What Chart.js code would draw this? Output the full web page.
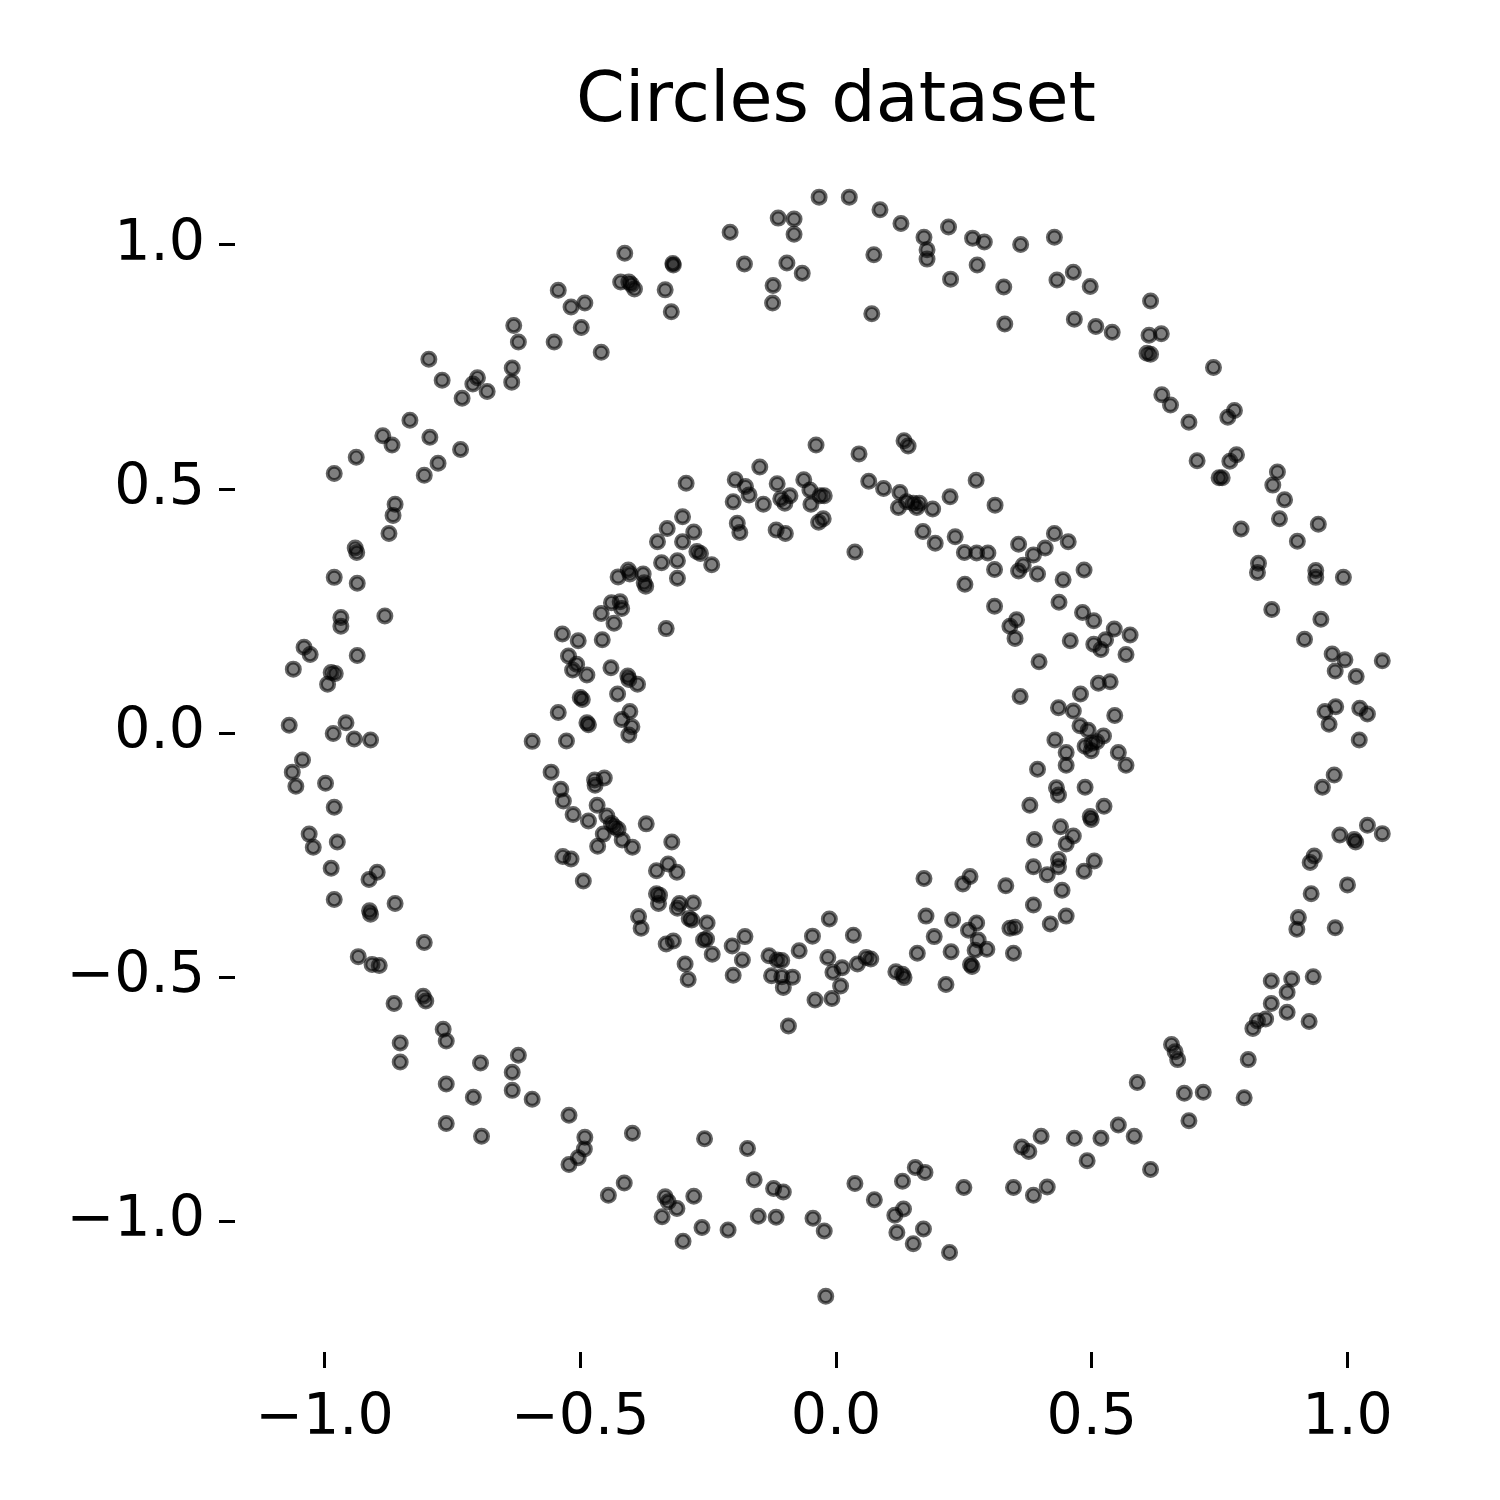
<!DOCTYPE html>
<html>
<head>
<meta charset="utf-8">
<title>Circles dataset</title>
<script src="https://cdn.jsdelivr.net/npm/chart.js@4.4.1/dist/chart.umd.min.js"></script>
<style>
  body { margin: 0; background: #fff; }
  canvas { display: block; }
</style>
</head>
<body>
<canvas id="myChart" width="1500" height="1500"></canvas>
<script>
'use strict';

// Points, [x, y]
let outerCircle = [
  [-0.413,0.983],[-0.421,0.924],[-0.405,0.924],[-0.400,0.919],[-0.394,0.910],[-0.543,0.907],[-0.518,0.873],
  [-0.491,0.881],[-0.498,0.831],[-0.630,0.835],[-0.621,0.801],[-0.551,0.801],[-0.459,0.780],[-0.796,0.766],
  [-0.633,0.748],[-0.634,0.719],[-0.770,0.723],[-0.701,0.728],[-0.710,0.715],[-0.682,0.700],[-0.731,0.686],
  [-0.833,0.641],[-0.886,0.609],[-0.868,0.590],[-0.794,0.606],[-0.734,0.581],[-0.938,0.565],[-0.981,0.532],
  [-0.778,0.553],[-0.805,0.528],[-0.862,0.469],[-0.866,0.446],[-0.874,0.409],[-0.940,0.379],[-0.937,0.370],
  [-0.033,1.098],[0.026,1.098],[0.086,1.072],[0.127,1.044],[-0.113,1.055],[-0.082,1.053],[-0.082,1.022],
  [-0.207,1.026],[0.172,1.016],[0.220,1.037],[0.267,1.014],[0.290,1.006],[0.361,1.001],[-0.319,0.962],
  [-0.318,0.959],[-0.179,0.961],[-0.096,0.963],[-0.066,0.942],[0.074,0.980],[0.178,0.990],[0.178,0.971],
  [0.276,0.959],[0.224,0.930],[0.328,0.914],[0.330,0.838],[-0.334,0.908],[-0.322,0.863],[-0.123,0.917],
  [-0.124,0.881],[0.070,0.859],
  [0.427,1.016],[0.432,0.928],[0.464,0.944],[0.497,0.915],[0.615,0.885],[0.466,0.848],[0.508,0.833],
  [0.540,0.821],[0.612,0.815],[0.636,0.818],[0.608,0.778],[0.615,0.776],[0.738,0.749],[0.637,0.693],
  [0.654,0.672],[0.690,0.637],[0.779,0.661],[0.766,0.647],[0.706,0.558],[0.783,0.570],[0.770,0.557],
  [0.749,0.523],[0.755,0.523],[0.863,0.535],[0.854,0.508],[0.877,0.478],[0.867,0.439],[0.792,0.418],
  [0.943,0.428],[0.902,0.393],
  [-0.981,0.319],[-0.936,0.307],[-0.882,0.240],[-0.968,0.237],[-0.968,0.219],[-1.040,0.176],[-1.028,0.161],
  [-0.936,0.159],[-1.061,0.131],[-0.987,0.124],[-0.979,0.122],[-0.994,0.100],[-1.069,0.016],[-0.958,0.021],
  [-0.983,-0.001],[-0.942,-0.012],[-0.910,-0.014],[-1.043,-0.055],[-1.063,-0.080],[-1.056,-0.109],
  [-0.998,-0.103],[-0.981,-0.152],[-1.030,-0.207],[-1.022,-0.234],[-0.975,-0.223],[-0.987,-0.277],
  [-0.897,-0.285],[-0.913,-0.300],[-0.981,-0.341],[-0.912,-0.364],[-0.910,-0.371],[-0.862,-0.349],
  [0.826,0.348],[0.824,0.329],[0.938,0.333],[0.938,0.319],[0.992,0.319],[0.852,0.253],[0.948,0.233],
  [0.916,0.192],[0.970,0.162],[0.995,0.150],[0.976,0.127],[1.017,0.116],[1.068,0.148],[0.977,0.054],
  [0.956,0.044],[0.964,0.018],[1.024,0.051],[1.039,0.039],[1.023,-0.014],[0.974,-0.086],[0.951,-0.111],
  [1.039,-0.189],[0.985,-0.209],[1.013,-0.218],[1.016,-0.223],[1.068,-0.206],[0.935,-0.252],[0.927,-0.265],
  [1.000,-0.311],[0.929,-0.329],[0.904,-0.378],[0.901,-0.402],[0.976,-0.399],
  [-0.805,-0.429],[-0.934,-0.458],[-0.907,-0.474],[-0.893,-0.476],[-0.864,-0.554],[-0.807,-0.539],
  [-0.802,-0.549],[-0.768,-0.607],[-0.762,-0.631],[-0.852,-0.635],[-0.852,-0.674],[-0.695,-0.676],
  [-0.621,-0.660],[-0.633,-0.695],[-0.762,-0.719],[-0.709,-0.746],[-0.633,-0.732],[-0.594,-0.750],
  [-0.522,-0.783],[-0.762,-0.800],[-0.693,-0.826],[-0.491,-0.828],[-0.492,-0.852],[-0.504,-0.870],
  [-0.522,-0.884],[-0.398,-0.820],[-0.414,-0.922],[-0.445,-0.947],
  [-0.257,-0.831],[-0.173,-0.851],[-0.160,-0.915],[-0.122,-0.933],[-0.103,-0.940],[0.037,-0.923],
  [0.075,-0.956],[0.130,-0.918],[0.155,-0.890],[0.174,-0.900],[0.250,-0.931],[0.347,-0.931],[0.363,-0.848],
  [-0.334,-0.950],[-0.328,-0.960],[-0.311,-0.974],[-0.340,-0.991],[-0.278,-0.949],[-0.262,-1.013],
  [-0.299,-1.041],[-0.211,-1.018],[-0.152,-0.990],[-0.117,-0.992],[-0.045,-0.994],[-0.023,-1.020],
  [0.132,-0.975],[0.115,-0.988],[0.119,-1.023],[0.151,-1.046],[0.171,-1.016],[0.222,-1.064],[-0.020,-1.154],
  [0.851,-0.508],[0.891,-0.504],[0.933,-0.499],[0.882,-0.531],[0.851,-0.554],[0.882,-0.572],[0.925,-0.591],
  [0.840,-0.586],[0.824,-0.590],[0.815,-0.605],[0.656,-0.638],[0.663,-0.653],[0.668,-0.669],[0.806,-0.669],
  [0.589,-0.716],[0.681,-0.738],[0.718,-0.736],[0.798,-0.747],[0.690,-0.794],[0.552,-0.803],[0.401,-0.826],
  [0.466,-0.830],[0.518,-0.830],[0.583,-0.826],[0.377,-0.857],[0.491,-0.876],[0.615,-0.894],[0.413,-0.930],
  [0.386,-0.947]
];

let innerCircle = [
  [-0.039,0.590],[0.045,0.572],[0.133,0.599],[0.141,0.588],[0.274,0.518],[-0.149,0.545],[-0.293,0.512],
  [-0.197,0.519],[-0.177,0.505],[-0.170,0.488],[-0.201,0.474],[-0.142,0.469],[-0.115,0.511],[-0.090,0.486],
  [-0.108,0.480],[-0.100,0.471],[-0.063,0.519],[-0.051,0.498],[-0.031,0.486],[-0.023,0.486],[-0.049,0.469],
  [-0.025,0.439],[-0.034,0.432],[0.064,0.516],[0.093,0.501],[0.125,0.493],[0.138,0.474],[0.151,0.471],
  [0.122,0.462],[0.158,0.462],[0.163,0.471],[0.189,0.459],[0.223,0.484],[0.311,0.467],[-0.300,0.443],
  [-0.330,0.419],[-0.278,0.412],[-0.300,0.392],[-0.349,0.392],[-0.193,0.430],[-0.188,0.411],[-0.117,0.416],
  [-0.099,0.409],[0.170,0.413],[0.194,0.389],[0.233,0.402],[0.357,0.387],[0.037,0.371],[0.251,0.370],
  [0.275,0.369],[0.297,0.369],[-0.272,0.372],[-0.265,0.368],
  [0.427,0.409],[0.454,0.392],[0.409,0.379],[0.386,0.365],
  [-0.406,0.334],[-0.426,0.320],[-0.403,0.326],[-0.377,0.326],[-0.375,0.308],[-0.372,0.301],[-0.439,0.267],
  [-0.422,0.269],[-0.419,0.255],[-0.459,0.245],[-0.434,0.225],[-0.535,0.203],[-0.504,0.189],[-0.457,0.191],
  [-0.523,0.158],[-0.507,0.141],[-0.515,0.129],[-0.487,0.119],[-0.440,0.134],[-0.407,0.117],[-0.405,0.110],
  [-0.388,0.100],[-0.500,0.073],[-0.496,0.069],[-0.427,0.080],[-0.543,0.042],[-0.487,0.021],[-0.484,0.017],
  [-0.403,0.044],[-0.419,0.028],[-0.399,0.013],[-0.405,-0.004],[-0.594,-0.017],[-0.527,-0.016],[-0.557,-0.080],
  [-0.472,-0.096],[-0.471,-0.107],[-0.453,-0.092],[-0.538,-0.115],[-0.533,-0.139],[-0.514,-0.167],
  [-0.484,-0.180],[-0.467,-0.148],[-0.448,-0.170],[-0.439,-0.185],[-0.433,-0.192],[-0.426,-0.197],
  [-0.455,-0.207],[-0.418,-0.219],[-0.466,-0.232],[-0.398,-0.234],[-0.534,-0.253],[-0.518,-0.258],
  [-0.494,-0.303],[-0.371,-0.186],[-0.386,-0.376],[-0.381,-0.400],
  [-0.341,0.349],[-0.310,0.353],[-0.243,0.345],[-0.310,0.317],[-0.332,0.214],[0.252,0.305],[0.310,0.335],
  [0.357,0.332],[0.310,0.260],[0.340,0.219],[0.353,0.232],[0.350,0.194],[0.360,0.075],[0.366,0.344],
  [-0.321,-0.223],[-0.328,-0.268],[-0.351,-0.282],[-0.311,-0.285],[-0.351,-0.329],[-0.345,-0.332],
  [-0.347,-0.349],[-0.306,-0.349],[-0.310,-0.359],[-0.279,-0.348],[-0.287,-0.380],[-0.282,-0.383],
  [-0.252,-0.389],[-0.013,-0.381],[0.172,-0.298],[0.248,-0.309],[0.262,-0.294],[0.332,-0.313],[0.176,-0.375],
  [0.228,-0.383],[0.275,-0.389],[0.259,-0.404],[0.340,-0.400],[0.350,-0.398],
  [0.394,0.326],[0.444,0.314],[0.485,0.334],[0.436,0.268],[0.482,0.247],[0.504,0.230],[0.544,0.213],
  [0.575,0.201],[0.527,0.191],[0.504,0.182],[0.518,0.171],[0.458,0.189],[0.567,0.161],[0.397,0.146],
  [0.513,0.102],[0.536,0.105],[0.478,0.080],[0.435,0.052],[0.464,0.045],[0.545,0.036],[0.477,0.015],
  [0.493,0.006],[0.523,-0.006],[0.428,-0.014],[0.487,-0.027],[0.500,-0.021],[0.510,-0.018],[0.499,-0.036],
  [0.450,-0.040],[0.552,-0.040],[0.450,-0.066],[0.567,-0.066],[0.394,-0.074],[0.431,-0.112],[0.435,-0.127],
  [0.487,-0.111],[0.379,-0.148],[0.524,-0.150],[0.497,-0.171],[0.499,-0.177],[0.439,-0.192],[0.464,-0.211],
  [0.450,-0.227],[0.388,-0.218],[0.435,-0.259],[0.435,-0.274],[0.386,-0.274],[0.413,-0.290],[0.505,-0.262],
  [0.485,-0.283],[0.442,-0.322],[0.386,-0.352],[0.450,-0.375],[0.419,-0.391],
  [-0.332,-0.432],[-0.318,-0.426],[-0.259,-0.424],[-0.253,-0.422],[-0.203,-0.436],[-0.178,-0.417],
  [-0.242,-0.453],[-0.183,-0.465],[-0.295,-0.473],[-0.289,-0.505],[-0.201,-0.496],[-0.131,-0.456],
  [-0.115,-0.465],[-0.106,-0.466],[-0.126,-0.497],[-0.106,-0.499],[-0.085,-0.500],[-0.103,-0.521],
  [-0.072,-0.446],[-0.046,-0.416],[-0.016,-0.460],[-0.006,-0.490],[0.012,-0.481],[0.009,-0.518],
  [-0.008,-0.544],[-0.041,-0.547],[0.034,-0.414],[0.042,-0.473],[0.059,-0.460],[0.068,-0.463],
  [-0.093,-0.600],[0.117,-0.489],[0.130,-0.494],[0.133,-0.501],[0.159,-0.451],[0.192,-0.417],
  [0.215,-0.515],[0.225,-0.448],[0.278,-0.424],[0.272,-0.445],[0.295,-0.443],[0.263,-0.474],
  [0.266,-0.478],[0.347,-0.451]
];

// Axes
let tickValues = [-1, -0.5, 0, 0.5, 1];
let tickLabels = ['\u22121.0', '\u22120.5', '0.0', '0.5', '1.0'];
let xRange = [-1.175, 1.175];
let yRange = [-1.268, 1.213];
let chartTitle = 'Circles dataset';

let fontFamily = '"DejaVu Sans", sans-serif';

function toPoints(list) {
  return list.map(p => ({ x: p[0], y: p[1] }));
}

function fixedTicks(scale) {
  scale.ticks = tickValues.map(v => ({ value: v }));
}

function pointDataset(list) {
  return {
    data: toPoints(list),
    pointRadius: 6.6,
    pointBorderWidth: 3.8,
    pointBackgroundColor: 'rgba(0, 0, 0, 0.5)',
    pointBorderColor: 'rgba(0, 0, 0, 0.6)',
    pointHoverRadius: 6.6,
    showLine: false
  };
}

function axisOptions(range, fitFn, padding) {
  return {
    type: 'linear',
    min: range[0],
    max: range[1],
    afterBuildTicks: fixedTicks,
    afterFit: fitFn,
    border: { display: false },
    grid: {
      display: true,
      drawOnChartArea: false,
      drawTicks: true,
      tickLength: 16,
      tickWidth: 3,
      tickColor: '#000'
    },
    ticks: {
      autoSkip: false,
      maxRotation: 0,
      padding: padding,
      color: '#000',
      font: { family: fontFamily, size: 57 },
      callback: (value, index) => tickLabels[index]
    }
  };
}

let ctx = document.getElementById('myChart').getContext('2d');
let myChart = new Chart(ctx, { // eslint-disable-line
  type: 'scatter',
  data: {
    datasets: [pointDataset(outerCircle), pointDataset(innerCircle)]
  },
  options: {
    responsive: false,
    devicePixelRatio: 1,
    animation: false,
    events: [],
    layout: { padding: { left: 0, right: 63, top: 0, bottom: 0 } },
    plugins: {
      legend: { display: false },
      tooltip: { enabled: false },
      title: {
        display: true,
        fullSize: false,
        text: chartTitle,
        color: '#000',
        font: { family: fontFamily, size: 70, weight: 'normal', lineHeight: 1.08 },
        padding: { top: 65, bottom: 0.4 }
      }
    },
    scales: {
      x: axisOptions(xRange, s => { s.height = 148; }, 17),
      y: axisOptions(yRange, s => { s.width = 235; }, 14)
    }
  }
});
</script>
</body>
</html>
